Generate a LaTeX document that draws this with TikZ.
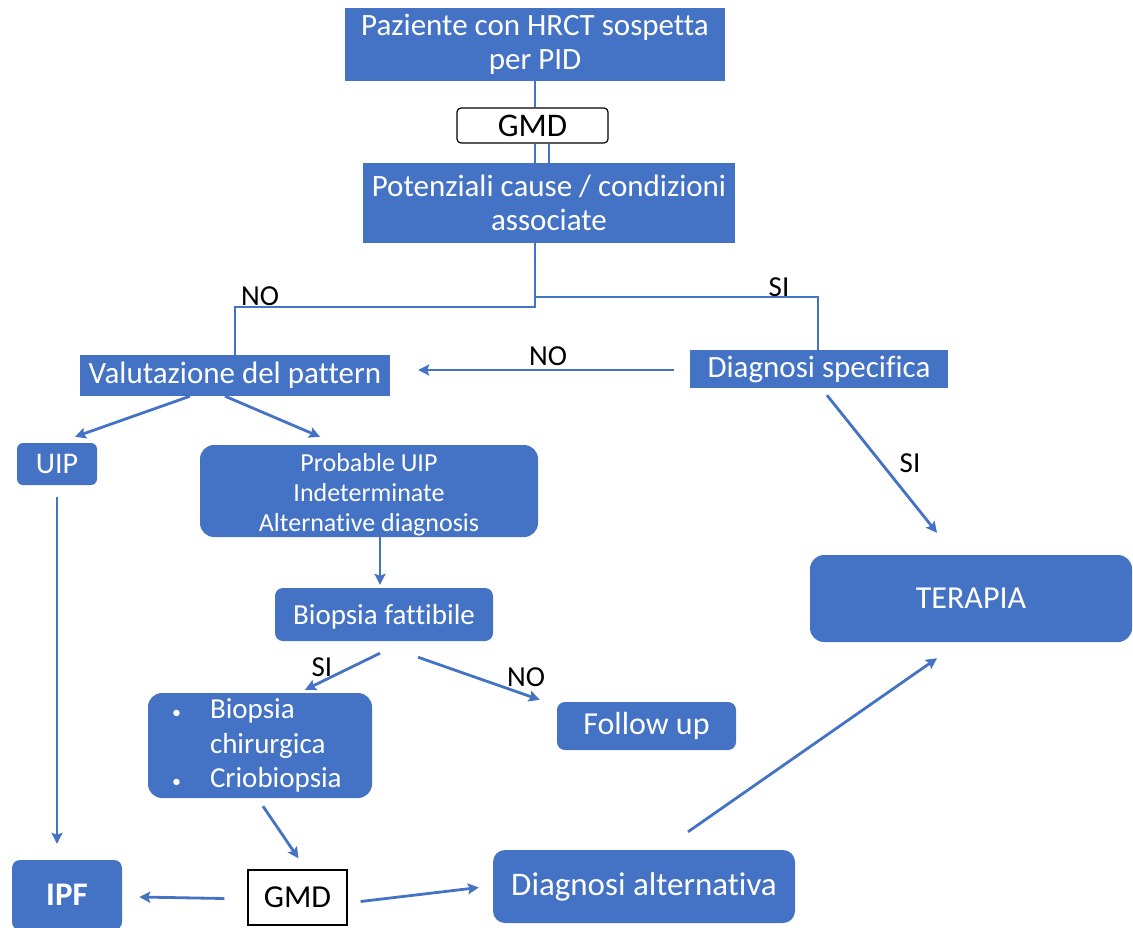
\documentclass[tikz,border=0pt]{standalone}
\usepackage{fontspec}
\setmainfont{Carlito}[Ligatures=NoCommon]
\usetikzlibrary{arrows.meta,calc}
\definecolor{flowblue}{RGB}{68,114,196}
\begin{document}
\begin{tikzpicture}[x=1pt,y=-1pt,
  blk/.style={fill=flowblue,text=white,inner sep=0pt,align=center},
  sq/.style={blk},
  rnd/.style={blk,rounded corners=#1},
  rnd/.default=8pt,
  gmdbox/.style={draw=black,fill=white,text=black,inner sep=0pt,line width=1.2pt},
  big/.style={font=\fontsize{31}{34}\selectfont},
  mid/.style={font=\fontsize{30}{34}\selectfont},
  small/.style={font=\fontsize{26}{30}\selectfont},
  conn/.style={draw=flowblue,line width=2pt},
  arr/.style={draw=flowblue,line width=2.8pt,-{Stealth[length=11pt,width=11pt,inset=2pt]}},
  lbl/.style={font=\fontsize{29}{30}\selectfont,text=black,inner sep=0pt}
]
\useasboundingbox (0,0) rectangle (1133,927);

% boxes
\node[sq,big,minimum width=380,minimum height=73] (top) at (535,44.5) {Paziente con HRCT sospetta\\per PID};
\node[gmdbox,rounded corners=4pt,font=\fontsize{33}{34}\selectfont,minimum width=151,minimum height=35] (gmdA) at (532.5,125.5) {GMD};
\node[sq,big,minimum width=372,minimum height=80] (cause) at (549,203) {Potenziali cause / condizioni\\associate};
\node[sq,big,minimum width=310,minimum height=41] (val) at (235,375.5) {Valutazione del pattern};
\node[sq,big,minimum width=258,minimum height=38] (spec) at (819,369) {Diagnosi specifica};
\node[rnd=6pt,mid,minimum width=80,minimum height=42] (uip) at (57,464) {UIP};
\node[rnd=14pt,small,minimum width=338,minimum height=92] (prob) at (369,491) {\rule{0pt}{26pt}Probable UIP\\Indeterminate\\Alternative diagnosis};
\node[rnd=8pt,font=\fontsize{29}{34}\selectfont,minimum width=218,minimum height=53] (biop) at (384,614.5) {\rule{0pt}{24pt}Biopsia fattibile};
\node[rnd=14pt,font=\fontsize{29}{34.5}\selectfont,minimum width=224,minimum height=105,inner xsep=24pt,text width=176pt,align=left] (bul) at (260,745.5)
  {\makebox[38pt][l]{\fontsize{18}{20}\selectfont\textbullet}Biopsia\\\makebox[38pt][l]{}chirurgica\\\makebox[38pt][l]{\fontsize{18}{20}\selectfont\textbullet}Criobiopsia};
\node[rnd=8pt,font=\fontsize{32}{34}\selectfont,minimum width=179,minimum height=48] (fol) at (646.5,726) {Follow up};
\node[rnd=14pt,font=\fontsize{32}{34}\selectfont,minimum width=322,minimum height=87] (ter) at (971,598.5) {TERAPIA};
\node[gmdbox,font=\fontsize{32}{34}\selectfont,minimum width=99,minimum height=55] (gmdB) at (297.5,897.5) {GMD};
\node[rnd=8pt,font=\fontsize{33}{34}\selectfont\bfseries,minimum width=110,minimum height=70] (ipf) at (67,895) {IPF};
\node[rnd=12pt,font=\fontsize{33}{34}\selectfont,minimum width=302,minimum height=73] (dalt) at (644,886.5) {Diagnosi alternativa};

% junction points of the first branch
\coordinate (jl) at (535,307);
\coordinate (jr) at (535,297);
\coordinate (valIn) at (val.north);
\coordinate (specIn) at ([xshift=-1pt]spec.north);
\coordinate (causeOut) at ([xshift=-14pt]cause.south);

% top connectors
\draw[conn] (top.south) -- (top.south |- gmdA.north);
\draw[conn] ([xshift=2.5pt]gmdA.south) -- ([xshift=2.5pt]gmdA.south |- cause.north);
\draw[conn] ([xshift=16.5pt]gmdA.south) -- ([xshift=16.5pt]gmdA.south |- cause.north);
\draw[conn] (causeOut) -- (jl) -- (jl -| valIn) -- (valIn);
\draw[conn] (jr) -- (jr -| specIn) -- (specIn);
\node[lbl] (noA) at (260,296) {NO};
\node[lbl] (siA) at (779,287) {SI};

% arrows
\draw[arr] ([xshift=-16pt,yshift=-1pt]spec.west) -- ([xshift=28pt,yshift=5.5pt]val.east);
\node[lbl] (noB) at (548,356) {NO};
\draw[arr] ([xshift=-45pt]val.south) -- ([xshift=18pt,yshift=6pt]uip.north);
\draw[arr] ([xshift=-10pt]val.south) -- ([xshift=-49pt,yshift=8pt]prob.north);
\draw[arr] ([xshift=11pt]prob.south) -- ([xshift=-4pt,yshift=3pt]biop.north);
\draw[arr] ([xshift=-4pt,yshift=-12pt]biop.south) -- ([xshift=45pt,yshift=3pt]bul.north);
\node[lbl] (siB) at (322,667) {SI};
\draw[arr] ([xshift=34pt,yshift=-16pt]biop.south) -- ([xshift=-17pt,yshift=2pt]fol.north west);
\node[lbl] (noC) at (526,677) {NO};
\coordinate (uipOut) at ([yshift=-12pt]uip.south);
\draw[arr] (uipOut) -- ([yshift=16pt]uipOut |- ipf.north);
\draw[arr] ([xshift=3pt,yshift=-8pt]bul.south) -- ([xshift=1pt,yshift=11pt]gmdB.north);
\draw[arr] ([xshift=-23pt,yshift=-1pt]gmdB.west) -- ([xshift=17pt,yshift=-2pt]ipf.east);
\draw[arr] ([xshift=13pt,yshift=-4pt]gmdB.east) -- ([xshift=-14pt,yshift=-1pt]dalt.west);
\draw[arr] ([xshift=44pt,yshift=18pt]dalt.north) -- ([xshift=-34pt,yshift=-16pt]ter.south);
\draw[arr] ([xshift=8pt,yshift=-7pt]spec.south) -- ([xshift=-34pt,yshift=22pt]ter.north);
\node[lbl] (siC) at (910,463) {SI};
\end{tikzpicture}
\end{document}
